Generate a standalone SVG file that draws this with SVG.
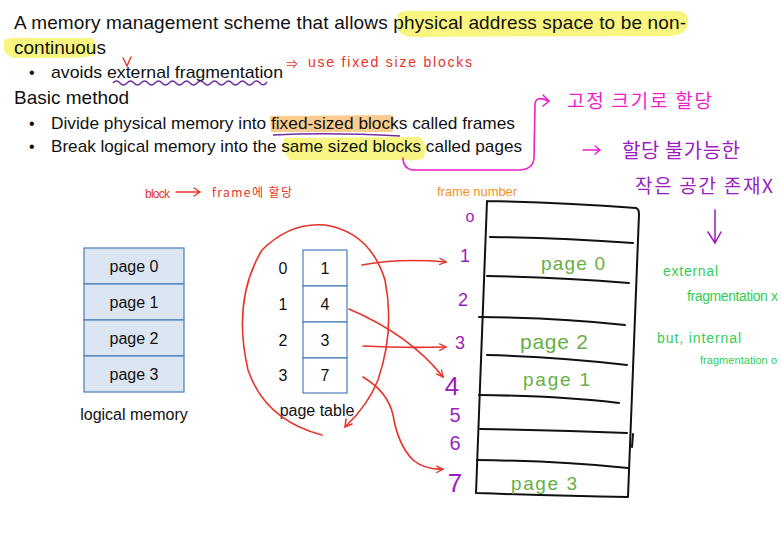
<svg xmlns="http://www.w3.org/2000/svg" width="782" height="537" viewBox="0 0 782 537">
<style>
.t{font-family:"Liberation Sans",Arial,sans-serif;fill:#111}
.h{font-family:"Liberation Sans","Noto Sans CJK KR",sans-serif}
.k{font-family:"Noto Sans CJK KR","Noto Sans",sans-serif}
.red{fill:#e8332a}
.pur{fill:#9b1cbf}
.mag{fill:#ee1fc8}
.grn{fill:#33cc55}
.pg{fill:#66b046}
.org{fill:#f5921e}
.box{fill:#dce6f2;stroke:#4a7ebb;stroke-width:1.2}
.pt{fill:#fff;stroke:#4a7ebb;stroke-width:1.2}
.ink{fill:none;stroke:#111;stroke-width:2;stroke-linecap:round;stroke-linejoin:round}
.ra{fill:none;stroke:#e8332a;stroke-width:1.6;stroke-linecap:round;stroke-linejoin:round}
</style>
<defs>
<marker id="ah" viewBox="0 0 10 10" refX="9" refY="5" markerWidth="8" markerHeight="8" orient="auto" markerUnits="userSpaceOnUse">
<path d="M1,1 L9,5 L1,9" fill="none" stroke="#e8332a" stroke-width="1.6" stroke-linecap="round"/>
</marker>
</defs>
<rect width="782" height="537" fill="#fff"/>

<!-- highlights -->
<g id="highlights">
<path d="M398,14 Q400,10 420,11 L680,11 Q690,14 688,24 Q686,35 670,36 L410,37 Q396,34 398,24 Z" fill="#f7f36a" opacity="0.85"/>
<path d="M4,40 Q10,37 30,38 L92,38 Q99,44 96,54 Q90,58 60,58 L14,58 Q2,54 4,46 Z" fill="#f7f36a" opacity="0.85"/>
<path d="M270,116 L393,115 Q397,124 392,132 L271,132 Z" fill="#f9c684" opacity="0.9"/>
<path d="M284,138 L420,137 Q428,145 424,158 Q418,161 405,160 L290,160 Q281,150 284,138 Z" fill="#f7f36a" opacity="0.85"/>
</g>

<!-- main text -->
<g id="text">
<text class="t" x="14" y="29" font-size="19" textLength="672" lengthAdjust="spacing">A memory management scheme that allows physical address space to be non-</text>
<text class="t" x="14" y="54" font-size="19">continuous</text>
<text class="t" x="29" y="78" font-size="16">•</text>
<text class="t" x="51" y="78" font-size="17" textLength="232" lengthAdjust="spacingAndGlyphs">avoids external fragmentation</text>
<text class="t" x="14" y="104" font-size="19">Basic method</text>
<text class="t" x="29" y="129" font-size="16">•</text>
<text class="t" x="51" y="129" font-size="17" textLength="464" lengthAdjust="spacingAndGlyphs">Divide physical memory into fixed-sized blocks called frames</text>
<text class="t" x="29" y="152" font-size="16">•</text>
<text class="t" x="51" y="152" font-size="17" textLength="471" lengthAdjust="spacingAndGlyphs">Break logical memory into the same sized blocks called pages</text>
</g>

<!-- annotations -->
<g id="annotations">
<path d="M113,83 q3.5,-4 7,0 t7,0 t7,0 t7,0 t7,0 t7,0 t7,0 t7,0 t7,0 t7,0 t7,0 t7,0 t7,0 t7,0 t7,0 t7,0 t7,0 t7,0 t7,0 t7,0 t7,0 t7,-1" fill="none" stroke="#7030a0" stroke-width="1.4"/>
<path d="M273,135 Q330,132 400,136" fill="none" stroke="#7030a0" stroke-width="1.4"/>
<path d="M123,58 L127,66 L131,57" fill="none" stroke="#e8332a" stroke-width="1.4" stroke-linecap="round"/>
<text class="h red" x="286" y="69" font-size="12">⇒</text>
<text class="h red" x="308" y="67" font-size="14" textLength="164" lengthAdjust="spacing">use fixed size blocks</text>
<path d="M403,158 Q403,168 412,170 L518,170 Q533,170 534,158 L535,104 Q536,95 548,101" fill="none" stroke="#ee1fc8" stroke-width="1.6" stroke-linecap="round"/>
<path d="M543,95 L549,101 L543,106" fill="none" stroke="#ee1fc8" stroke-width="1.6" stroke-linecap="round"/>
<text class="k mag" x="567" y="108" font-size="19" textLength="145" lengthAdjust="spacing">고정 크기로 할당</text>
<path d="M583,150 L600,150 M595,146 L600,150 L595,154" fill="none" stroke="#ee1fc8" stroke-width="1.4" stroke-linecap="round"/>
<text class="k pur" x="622" y="158" font-size="20" textLength="118" lengthAdjust="spacing">할당 불가능한</text>
<text class="k pur" x="635" y="193" font-size="19" textLength="138" lengthAdjust="spacing">작은 공간 존재X</text>
<path d="M715,210 L715,243 M708,232 L715,243 L721,232" fill="none" stroke="#9b1cbf" stroke-width="1.5" stroke-linecap="round"/>
<text class="h grn" x="663" y="276" font-size="14" textLength="55" lengthAdjust="spacing">external</text>
<text class="h grn" x="687" y="301" font-size="14" textLength="91" lengthAdjust="spacing">fragmentation x</text>
<text class="h grn" x="657" y="343" font-size="14" textLength="84" lengthAdjust="spacing">but, internal</text>
<text class="h grn" x="700" y="364" font-size="11" textLength="77" lengthAdjust="spacing">fragmentation o</text>
<text class="h red" x="145" y="198" font-size="12" textLength="25" lengthAdjust="spacing">block</text>
<path d="M176,192 L200,192 M194,188 L200,192 L194,196" fill="none" stroke="#e8332a" stroke-width="1.4" stroke-linecap="round"/>
<text class="k red" x="212" y="197" font-size="12" textLength="80" lengthAdjust="spacing">frame에  할당</text>
<text class="h org" x="437" y="196" font-size="13" textLength="80" lengthAdjust="spacing">frame number</text>
</g>

<!-- logical memory -->
<g id="logical-memory">
<rect class="box" x="84" y="248" width="100" height="36"/>
<rect class="box" x="84" y="284" width="100" height="36"/>
<rect class="box" x="84" y="320" width="100" height="36"/>
<rect class="box" x="84" y="356" width="100" height="36"/>
<text class="t" x="134" y="272" font-size="16" text-anchor="middle">page 0</text>
<text class="t" x="134" y="308" font-size="16" text-anchor="middle">page 1</text>
<text class="t" x="134" y="344" font-size="16" text-anchor="middle">page 2</text>
<text class="t" x="134" y="380" font-size="16" text-anchor="middle">page 3</text>
<text class="t" x="134" y="420" font-size="16" text-anchor="middle">logical memory</text>
</g>

<!-- page table -->
<g id="page-table">
<rect class="pt" x="303" y="250" width="44" height="36"/>
<rect class="pt" x="303" y="286" width="44" height="36"/>
<rect class="pt" x="303" y="322" width="44" height="36"/>
<rect class="pt" x="303" y="358" width="44" height="35"/>
<text class="t" x="283" y="274" font-size="16" text-anchor="middle">0</text>
<text class="t" x="283" y="310" font-size="16" text-anchor="middle">1</text>
<text class="t" x="283" y="346" font-size="16" text-anchor="middle">2</text>
<text class="t" x="283" y="381" font-size="16" text-anchor="middle">3</text>
<text class="t" x="325" y="274" font-size="16" text-anchor="middle">1</text>
<text class="t" x="325" y="310" font-size="16" text-anchor="middle">4</text>
<text class="t" x="325" y="346" font-size="16" text-anchor="middle">3</text>
<text class="t" x="325" y="381" font-size="16" text-anchor="middle">7</text>
<text class="t" x="317" y="416" font-size="16" text-anchor="middle">page table</text>
</g>

<!-- physical memory frames -->
<g id="physical-memory">
<path class="ink" d="M487,201 Q560,202 636,208 Q639,209 639,214 L628,497 Q560,496 476,493 L487,201"/>
<path class="ink" d="M490,237 Q560,238 633,243"/>
<path class="ink" d="M487,276 Q560,277 629,283"/>
<path class="ink" d="M479,317 Q560,318 625,325"/>
<path class="ink" d="M487,355 Q560,357 627,365"/>
<path class="ink" d="M479,395 Q560,396 619,403"/>
<path class="ink" d="M480,429 Q560,430 627,433 M633,434 L632,447"/>
<path class="ink" d="M477,460 Q560,461 628,468"/>
<text class="h pur" x="470" y="222" font-size="16" text-anchor="middle">o</text>
<text class="h pur" x="465" y="262" font-size="18" text-anchor="middle">1</text>
<text class="h pur" x="463" y="306" font-size="18" text-anchor="middle">2</text>
<text class="h pur" x="460" y="349" font-size="18" text-anchor="middle">3</text>
<text class="h pur" x="452" y="395" font-size="26" text-anchor="middle">4</text>
<text class="h pur" x="455" y="422" font-size="20" text-anchor="middle">5</text>
<text class="h pur" x="455" y="450" font-size="20" text-anchor="middle">6</text>
<text class="h pur" x="455" y="492" font-size="26" text-anchor="middle">7</text>
<text class="h pg" x="541" y="270" font-size="19" textLength="64" lengthAdjust="spacing">page 0</text>
<text class="h pg" x="520" y="349" font-size="21" textLength="68" lengthAdjust="spacing">page 2</text>
<text class="h pg" x="523" y="386" font-size="19" textLength="67" lengthAdjust="spacing">page 1</text>
<text class="h pg" x="511" y="490" font-size="19" textLength="66" lengthAdjust="spacing">page 3</text>
</g>

<!-- connectors -->
<g id="connectors">
<path class="ra" d="M322,435 Q265,420 248,370 Q232,300 262,250 Q290,222 325,225 Q370,232 385,280 Q395,330 378,380 Q368,405 346,426"/>
<path d="M346,419 L345,427 L352,424" fill="none" stroke="#e8332a" stroke-width="1.6" stroke-linecap="round"/>
<path class="ra" d="M362,265 Q400,258 446,262" marker-end="url(#ah)"/>
<path class="ra" d="M349,309 Q410,335 443,377" marker-end="url(#ah)"/>
<path class="ra" d="M363,346 Q400,348 446,347" marker-end="url(#ah)"/>
<path class="ra" d="M363,377 Q388,392 393,415 Q398,445 413,460 Q425,470 443,469" marker-end="url(#ah)"/>
</g>
</svg>
